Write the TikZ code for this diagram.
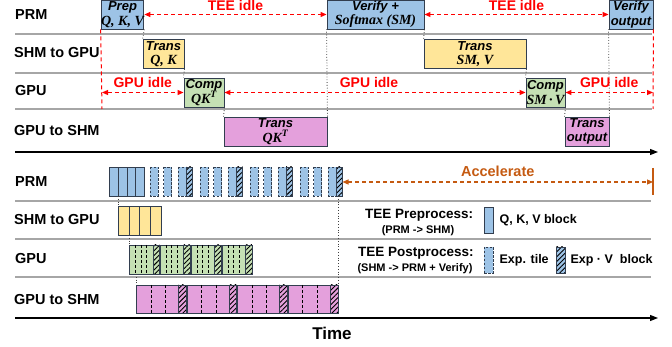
\documentclass[tikz,border=0pt]{standalone}
\usepackage{fontspec}
\setmainfont{Liberation Sans}
\newfontfamily\varfont{Liberation Serif}
\usetikzlibrary{arrows.meta,patterns.meta,positioning}

\definecolor{prmblue}{RGB}{157,195,230}
\definecolor{shmyellow}{RGB}{255,230,153}
\definecolor{gpugreen}{RGB}{197,224,180}
\definecolor{outpink}{RGB}{228,160,220}
\definecolor{boxline}{RGB}{50,62,79}
\definecolor{accorange}{RGB}{197,90,17}
\definecolor{idlered}{RGB}{255,0,0}
\definecolor{rowgray}{RGB}{166,166,166}

\newcommand{\vars}[1]{{\varfont\fontsize{14}{13}\selectfont #1}}

\tikzset{
  rowlabel/.style={anchor=west, inner sep=0pt, font=\fontsize{14.5}{16}\selectfont\bfseries},
  stage/.style={draw=boxline, line width=0.9pt, inner sep=0pt, align=center,
    minimum width=#1, minimum height=29pt, font=\fontsize{13}{14.5}\selectfont\bfseries\itshape},
  idle/.style={draw=idlered, line width=1.1pt, dash pattern=on 4pt off 3pt,
    {Triangle[length=6pt,width=5pt]}-{Triangle[length=6pt,width=5pt]}},
  idlelabel/.style={above=3pt, inner sep=0pt, text=idlered, font=\fontsize{14}{16}\selectfont\bfseries},
  idleedge/.style={draw=idlered, line width=1pt, dash pattern=on 4pt off 3pt},
  handoff/.style={draw=black!75, line width=0.8pt, dotted},
  rowline/.style={draw=rowgray, line width=1.1pt},
  timeaxis/.style={draw=black, line width=1.3pt, -{Triangle[length=8pt,width=6pt]}},
  blockbox/.style={draw=boxline, line width=0.8pt},
  tilebox/.style={draw=boxline, line width=0.8pt, dash pattern=on 2.5pt off 1.5pt, fill=prmblue},
  hatchbox/.style={draw=boxline, line width=0.8pt, preaction={fill=#1},
    pattern={Lines[angle=45,distance=3.4pt,line width=0.9pt]}, pattern color=black},
  innercut/.style={draw=black, line width=0.7pt, dash pattern=on 3pt off 2pt},
  accel/.style={draw=accorange, line width=1.1pt, dash pattern=on 4pt off 3pt,
    {Triangle[length=6pt,width=5pt]}-{Triangle[length=6pt,width=5pt]}},
  acclabel/.style={above=5pt, inner sep=0pt, text=accorange, font=\fontsize{14.5}{16}\selectfont\bfseries},
  legendtext/.style={inner sep=0pt, font=\fontsize{12.5}{14}\selectfont\bfseries},
  legendhead/.style={inner sep=0pt, font=\fontsize{13.5}{15}\selectfont\bfseries},
  legendnote/.style={inner sep=0pt, font=\fontsize{11}{13}\selectfont\bfseries},
  keyblock/.style={draw=boxline, line width=0.9pt, fill=prmblue, inner sep=0pt, minimum width=9pt, minimum height=26pt},
  keytile/.style={tilebox, inner sep=0pt, minimum width=9pt, minimum height=26pt},
  keyhatch/.style={hatchbox=prmblue, inner sep=0pt, minimum width=9pt, minimum height=26pt},
}

\begin{document}
\begin{tikzpicture}[x=1pt,y=1pt,yscale=-1,xscale=1]
\useasboundingbox (0,0) rectangle (672,347);

%Rows of the sequential schedule
\node[rowlabel] (lprm) at (15,15) {PRM};
\node[rowlabel] (lshm) at (14,53) {SHM to GPU};
\node[rowlabel] (lgpu) at (15,91) {GPU};
\node[rowlabel] (lout) at (14,131) {GPU to SHM};
\draw[rowline] (15,34) -- (652,34);
\draw[rowline] (15,73) -- (652,73);
\draw[rowline] (15,109) -- (652,109);

%Stages
\node[stage=41pt, fill=prmblue] (prep) at (122.5,14.5) {Prep\\\vars{Q, K, V}};
\node[stage=41pt, fill=shmyellow] (transqk) at (163.5,54) {Trans\\\vars{Q, K}};
\node[stage=40pt, fill=gpugreen] (compqk) at (204,92.5) {Comp\\\vars{QK\textsuperscript{T}}};
\node[stage=103pt, fill=outpink] (transqkt) at (275.5,131.5) {Trans\\\vars{QK\textsuperscript{T}}};
\node[stage=97pt, fill=prmblue] (verify) at (375.5,14.5) {Verify +\\\vars{Softmax (SM)}};
\node[stage=102pt, fill=shmyellow] (transsmv) at (475,54) {Trans\\\vars{SM, V}};
\node[stage=39pt, fill=gpugreen] (compsmv) at (545.5,92.5) {Comp\\\vars{SM\,·\,V}};
\node[stage=44pt, fill=outpink] (transout) at (587,131.5) {Trans\\output};
\node[stage=44pt, fill=prmblue] (verifyout) at (631,14.5) {Verify\\output};

%Hand-offs
\draw[handoff] (prep.south east) -- (transqk.north west);
\draw[handoff] (transqk.south east) -- (compqk.north west);
\draw[handoff] (compqk.south east) -- (transqkt.north west);
\draw[handoff] (transqkt.north east) -- (verify.south west);
\draw[handoff] (verify.south east) -- (transsmv.north west);
\draw[handoff] (transsmv.south east) -- (compsmv.north west);
\draw[handoff] (compsmv.south east) -- (transout.north west);
\draw[handoff] (transout.north east) -- (verifyout.south west);

%Idle spans
\coordinate (gpustart) at (102,92.5);
\coordinate (gpuend) at (653,92.5);
\coordinate (startfoot) at (102,109);
\coordinate (endfoot) at (653,109);
\draw[idleedge] (prep.south west) -- (startfoot);
\draw[idleedge] (verifyout.south east) -- (endfoot);
\draw[idle] (prep) -- node[idlelabel] (tee1) {TEE idle} (verify);
\draw[idle] (verify) -- node[idlelabel] (tee2) {TEE idle} (verifyout);
\draw[idle] (gpustart) -- node[idlelabel, above=4.5pt] (gpuidle1) {GPU idle} (compqk);
\draw[idle] (compqk) -- node[idlelabel, above=4.5pt, pos=0.48] (gpuidle2) {GPU idle} (compsmv);
\draw[idle] (compsmv) -- node[idlelabel, above=4.5pt] (gpuidle3) {GPU idle} (gpuend);

\coordinate (ax0) at (15,152);
\coordinate (ax1) at (658,152);
\draw[timeaxis] (ax0) -- (ax1);

%Rows of the pipelined schedule
\node[rowlabel] (bprm) at (15,182) {PRM};
\node[rowlabel] (bshm) at (14,220) {SHM to GPU};
\node[rowlabel] (bgpu) at (15,259) {GPU};
\node[rowlabel] (bout) at (14,300) {GPU to SHM};
\draw[rowline] (15,201) -- (651,201);
\draw[rowline] (15,239) -- (651,239);
\draw[rowline] (15,277) -- (651,277);

%Q, K, V blocks
\foreach \i in {0,...,3}
  \draw[blockbox, fill=prmblue] ({109.5+8.7*\i},167) rectangle ++(8.7,29);
%Exp. tiles
\foreach \g in {0,...,3}{
  \foreach \o in {0,13.5,28}
    \draw[tilebox] ({150+50*\g+\o},167) rectangle ++(8,29);
  \draw[hatchbox=prmblue] ({186+50*\g},167) rectangle ++(6.5,29);
}
%SHM to GPU
\foreach \i in {0,...,3}
  \draw[blockbox, fill=shmyellow] ({118.5+10.6*\i},206) rectangle ++(10.6,29);
%GPU
\foreach \g in {0,...,3}{
  \draw[blockbox, fill=gpugreen] ({129.5+30.8*\g},245) rectangle ++(30,29);
  \foreach \o in {6,11.5,17}
    \draw[innercut] ({129.5+30.8*\g+\o},245) -- ++(0,29);
  \draw[hatchbox=gpugreen] ({153+30.8*\g},245) rectangle ++(6.5,29);
}
%GPU to SHM
\foreach \g in {0,...,3}{
  \draw[blockbox, fill=outpink] ({136.5+50.6*\g},285) rectangle ++(49.6,28);
  \foreach \o in {14.5,29}
    \draw[innercut] ({136.5+50.6*\g+\o},285) -- ++(0,28);
  \draw[hatchbox=outpink] ({178.5+50.6*\g},285) rectangle ++(7.6,28);
}

%Hand-offs
\coordinate (qkvout) at (118.2,196);
\coordinate (shmin) at (118.2,206);
\coordinate (shmout) at (129.1,235);
\coordinate (gpuin) at (129.1,245);
\coordinate (gpuout) at (136,274);
\coordinate (pinkin) at (136,285);
\coordinate (prmlast) at (338.2,196);
\coordinate (pinklast) at (338.2,285);
\draw[handoff] (qkvout) -- (shmin);
\draw[handoff] (shmout) -- (gpuin);
\draw[handoff] (gpuout) -- (pinkin);
\draw[handoff] (prmlast) -- (pinklast);

%Speed-up
\coordinate (accfrom) at (342.5,182);
\coordinate (accto) at (653,182);
\draw[accel] (accfrom) -- node[acclabel] (acc) {Accelerate} (accto);
\draw[draw=accorange, line width=1.1pt] (653,168) -- (653,195);

%Legend
\node[legendhead, anchor=west] (prelabel) at (365,215) {TEE Preprocess:};
\node[legendnote] (prenote) at (418,231) {(PRM -> SHM)};
\node[legendhead, anchor=west] (postlabel) at (358,253) {TEE Postprocess:};
\node[legendnote] (postnote) at (415,269) {(SHM -> PRM + Verify)};
\node[keyblock] (keyqkv) at (488.5,220) {};
\node[legendtext, right=6pt of keyqkv] (keyqkvtext) {Q, K, V block};
\node[keytile] (keytile) at (488.5,260) {};
\node[legendtext, right=6pt of keytile] (keytiletext) {Exp. tile};
\node[keyhatch] (keyhatch) at (560.5,260) {};
\node[legendtext, right=5pt of keyhatch] (keyhatchtext) {Exp · V\ \ block};

\coordinate (bx0) at (15,318);
\coordinate (bx1) at (658,318);
\draw[timeaxis] (bx0) -- (bx1);
\node[inner sep=0pt, font=\fontsize{17}{20}\selectfont\bfseries] (timelabel) at (332,333) {Time};

\end{tikzpicture}
\end{document}
